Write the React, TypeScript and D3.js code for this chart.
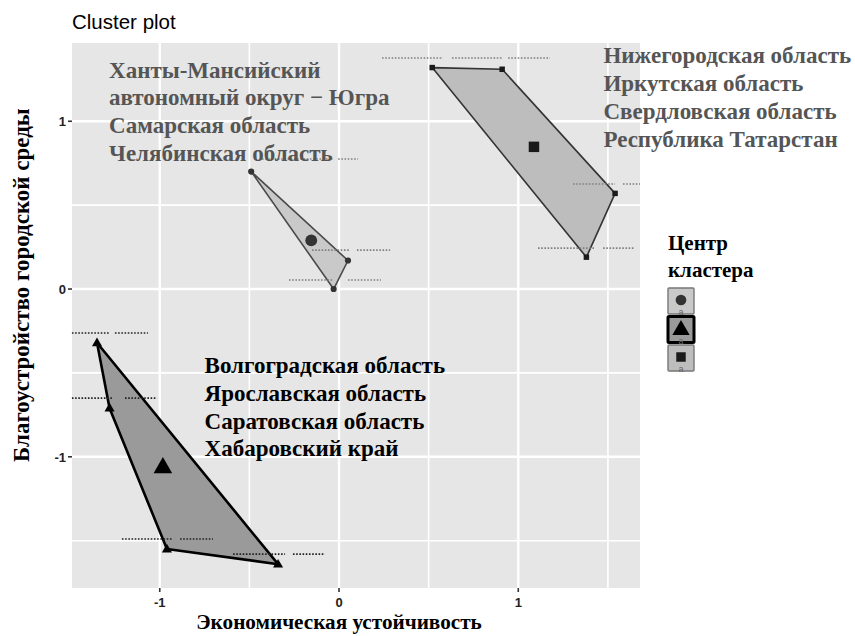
import React from "react";
import * as d3 from "d3";

// ---------- data ----------
const clusterIds = [1, 2, 3];
const c1X = [-0.49, 0.05, -0.03, -0.15];
const c1Y = [0.7, 0.17, 0.0, 0.29];
const c2X = [-1.35, -1.28, -0.96, -0.34];
const c2Y = [-0.32, -0.71, -1.55, -1.64];
const c3X = [0.52, 0.91, 1.54, 1.38];
const c3Y = [1.32, 1.31, 0.57, 0.19];

const c1Names = ["Ханты-Мансийский", "автономный округ − Югра", "Самарская область", "Челябинская область"];
const c2Names = ["Волгоградская область", "Ярославская область", "Саратовская область", "Хабаровский край"];
const c3Names = ["Нижегородская область", "Иркутская область", "Свердловская область", "Республика Татарстан"];

// tiny point labels (rendered as dotted strokes): [y, x0, x1]
const c1Tiny = [[0.775, -0.43, -0.035], [0.775, -0.005, 0.106], [0.232, -0.151, 0.061], [0.232, 0.1, 0.285], [0.054, -0.279, -0.033], [0.054, 0.05, 0.234]];
const c2Tiny = [[-0.262, -1.49, -1.278], [-0.262, -1.25, -1.066], [-0.65, -1.49, -1.261], [-0.65, -1.194, -1.015], [-1.49, -1.211, -0.926], [-1.49, -0.887, -0.703], [-1.58, -0.591, -0.301], [-1.58, -0.257, -0.078]];
const c3Tiny = [[1.377, 0.24, 0.58], [1.377, 0.63, 0.909], [1.377, 0.943, 1.177], [0.626, 1.305, 1.54], [0.626, 1.584, 1.679], [0.244, 1.11, 1.428], [0.244, 1.473, 1.651]];

const xTicks = [-1, 0, 1];
const yTicks = [-1, 0, 1];
const xMinor = [-1.5, -0.5, 0.5, 1.5];
const yMinor = [-1.5, -0.5, 0.5];

const titleText = "Cluster plot";
const xTitle = "Экономическая устойчивость";
const yTitle = "Благоустройство городской среды";
const legendTitle = ["Центр", "кластера"];

// ---------- layout ----------
const W = 855, H = 636;
const P = { left: 72, right: 640, top: 43, bottom: 588 };
const x = d3.scaleLinear().domain([-1.4895, 1.679]).range([P.left, P.right]);
const y = d3.scaleLinear().domain([-1.782, 1.4665]).range([P.bottom, P.top]);

const serif = "'Liberation Serif', 'Times New Roman', serif";
const sans = "'Liberation Sans', Arial, sans-serif";

type Style = { shape: string; fill: string; stroke: string; sw: number; mark: string; tiny: string; text: string };
const styles: Record<number, Style> = {
  1: { shape: "circle", fill: "#c9c9c9", stroke: "#4a4a4a", sw: 1.6, mark: "#333", tiny: "#808080", text: "#555" },
  2: { shape: "triangle", fill: "#9a9a9a", stroke: "#000", sw: 2.6, mark: "#000", tiny: "#222", text: "#000" },
  3: { shape: "square", fill: "#bdbdbd", stroke: "#333", sw: 1.6, mark: "#1a1a1a", tiny: "#808080", text: "#555" },
};

const clusters = [
  { id: 1, xs: c1X, ys: c1Y, names: c1Names, tiny: c1Tiny, lx: -1.283, ly: 1.26 },
  { id: 2, xs: c2X, ys: c2Y, names: c2Names, tiny: c2Tiny, lx: -0.75, ly: -0.5 },
  { id: 3, xs: c3X, ys: c3Y, names: c3Names, tiny: c3Tiny, lx: 1.475, ly: 1.345 },
];

function Marker({ shape, cx, cy, size, fill }: { shape: string; cx: number; cy: number; size: number; fill: string }) {
  const type = shape === "circle" ? d3.symbolCircle : shape === "triangle" ? d3.symbolTriangle : d3.symbolSquare;
  const path = d3.symbol().type(type).size(size)()!;
  const dy = shape === "triangle" ? size * 0.012 : 0;
  return <path d={path} transform={`translate(${cx},${cy + dy})`} fill={fill} />;
}

export default function App() {
  const lineH = 27.8;
  return (
    <svg width={W} height={H} style={{ position: "absolute", left: 0, top: 0, background: "#fff" }}>
      <text x={P.left} y={29} fontFamily={sans} fontSize={20.5} fill="#000">{titleText}</text>
      <rect x={P.left} y={P.top} width={P.right - P.left} height={P.bottom - P.top} fill="#e6e6e6" />
      {xMinor.map((v) => <line key={"xm" + v} x1={x(v)} x2={x(v)} y1={P.top} y2={P.bottom} stroke="#fff" strokeWidth={1.6} />)}
      {yMinor.map((v) => <line key={"ym" + v} y1={y(v)} y2={y(v)} x1={P.left} x2={P.right} stroke="#fff" strokeWidth={1.6} />)}
      {xTicks.map((v) => <line key={"xg" + v} x1={x(v)} x2={x(v)} y1={P.top} y2={P.bottom} stroke="#fff" strokeWidth={2.4} />)}
      {yTicks.map((v) => <line key={"yg" + v} y1={y(v)} y2={y(v)} x1={P.left} x2={P.right} stroke="#fff" strokeWidth={2.4} />)}

      {clusters.map((c) => {
        const st = styles[c.id];
        const pts: [number, number][] = c.xs.map((v, i) => [x(v), y(c.ys[i])]);
        const hull = d3.polygonHull(pts)!;
        const cx = x(d3.mean(c.xs)!), cy = y(d3.mean(c.ys)!);
        return (
          <g key={c.id}>
            <path d={"M" + hull.map((p) => p.join(",")).join("L") + "Z"} fill={st.fill} stroke={st.stroke} strokeWidth={st.sw} strokeLinejoin="round" />
            {c.tiny.map((t, i) => (
              <line key={i} x1={x(t[1])} x2={x(t[2])} y1={y(t[0])} y2={y(t[0])} stroke={st.tiny} strokeWidth={1.6} strokeDasharray="1.6 1.6" />
            ))}
            {pts.map((p, i) => <Marker key={i} shape={st.shape} cx={p[0]} cy={p[1]} size={st.shape === "triangle" ? 44 : 30} fill={st.mark} />)}
            <Marker shape={st.shape} cx={cx} cy={cy} size={st.shape === "triangle" ? 150 : 110} fill={st.mark} />
          </g>
        );
      })}

      {clusters.map((c) => {
        const st = styles[c.id];
        return c.names.map((n, i) => (
          <text key={c.id + "-" + i} x={x(c.lx)} y={y(c.ly) + i * lineH} fontFamily={serif} fontWeight="bold" fontSize={23} fill={st.text}>{n}</text>
        ));
      })}

      {/* axes */}
      {xTicks.map((v) => (
        <g key={"xt" + v}>
          <line x1={x(v)} x2={x(v)} y1={P.bottom} y2={P.bottom + 4} stroke="#333" strokeWidth={1.6} />
          <text x={x(v)} y={P.bottom + 19} textAnchor="middle" fontFamily={sans} fontWeight="bold" fontSize={13} fill="#222">{v}</text>
        </g>
      ))}
      {yTicks.map((v) => (
        <g key={"yt" + v}>
          <line x1={P.left - 4} x2={P.left} y1={y(v)} y2={y(v)} stroke="#333" strokeWidth={1.6} />
          <text x={P.left - 6} y={y(v) + 5} textAnchor="end" fontFamily={sans} fontWeight="bold" fontSize={13} fill="#222">{v}</text>
        </g>
      ))}
      <text x={x(0)} y={629} textAnchor="middle" fontFamily={serif} fontWeight="bold" fontSize={21.2} fill="#000">{xTitle}</text>
      <text transform={`translate(29,${y(0) - 4}) rotate(-90)`} textAnchor="middle" fontFamily={serif} fontWeight="bold" fontSize={23} fill="#000">{yTitle}</text>

      {/* legend */}
      {legendTitle.map((t, i) => (
        <text key={t} x={668} y={250 + i * 27} fontFamily={serif} fontSize={21} fill="#000" fontWeight="bold">{t}</text>
      ))}
      {clusterIds.map((id, i) => {
        const st = styles[id];
        const ky = 288 + i * 28.5;
        const sel = id === 2;
        return (
          <g key={"lg" + id}>
            <rect x={668} y={ky} width={26} height={26} fill={st.fill} stroke={sel ? "#000" : "#777"} strokeWidth={sel ? 3 : 1.4} rx={1} />
            <Marker shape={st.shape} cx={681} cy={ky + 12} size={sel ? 130 : 90} fill={st.mark} />
            <text x={681} y={ky + 27} textAnchor="middle" fontFamily={sans} fontSize={9} fill="#666">a</text>
          </g>
        );
      })}
    </svg>
  );
}
